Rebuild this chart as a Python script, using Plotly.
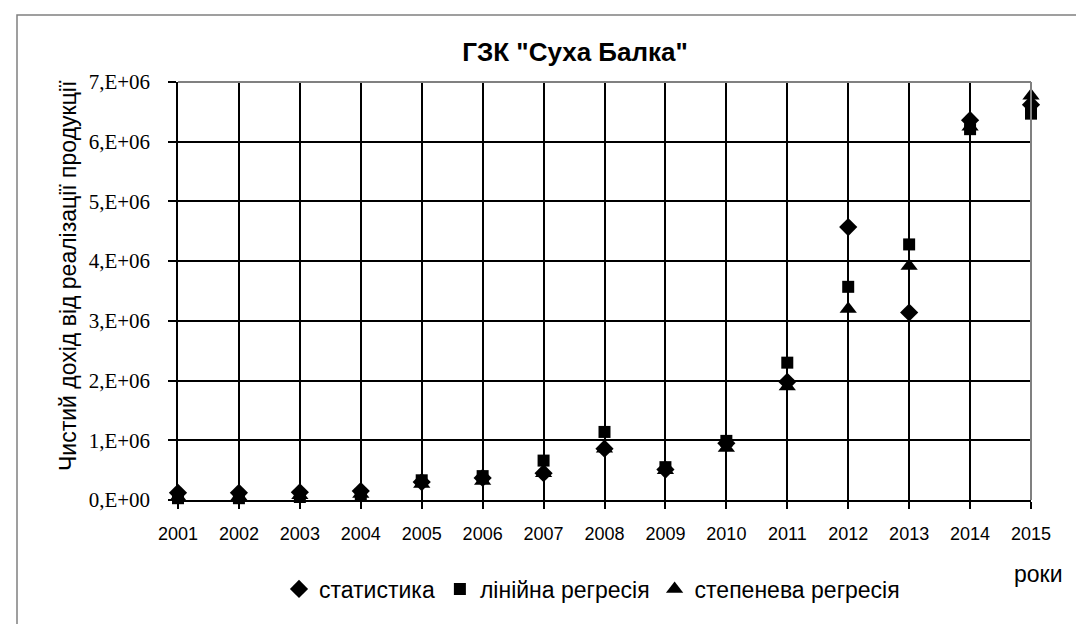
import plotly.graph_objects as go

years = [2001, 2002, 2003, 2004, 2005, 2006, 2007, 2008, 2009, 2010, 2011, 2012, 2013, 2014, 2015]
statystyka = [0.12e6, 0.12e6, 0.13e6, 0.15e6, 0.30e6, 0.37e6, 0.45e6, 0.86e6, 0.51e6, 0.95e6, 1.98e6, 4.57e6, 3.14e6, 6.36e6, 6.62e6]
liniina = [0.03e6, 0.03e6, 0.05e6, 0.09e6, 0.33e6, 0.40e6, 0.66e6, 1.14e6, 0.55e6, 0.99e6, 2.30e6, 3.57e6, 4.28e6, 6.21e6, 6.47e6]
stepeneva = [0.05e6, 0.06e6, 0.08e6, 0.10e6, 0.27e6, 0.32e6, 0.45e6, 0.86e6, 0.50e6, 0.87e6, 1.90e6, 3.20e6, 3.92e6, 6.25e6, 6.77e6]
names = ["статистика", "лінійна регресія", "степенева регресія"]
ytickvals = [0, 1e6, 2e6, 3e6, 4e6, 5e6, 6e6, 7e6]
yticktext = ["0,E+00", "1,E+06", "2,E+06", "3,E+06", "4,E+06", "5,E+06", "6,E+06", "7,E+06"]

SANS = "Liberation Sans, Arial, sans-serif"
SERIF = "Times New Roman, Liberation Serif, serif"

fig = go.Figure()
fig.add_trace(go.Scatter(x=years, y=statystyka, mode="markers", name=names[0],
                         marker=dict(symbol="diamond", size=14, color="black"), cliponaxis=False))
fig.add_trace(go.Scatter(x=years, y=liniina, mode="markers", name=names[1],
                         marker=dict(symbol="square", size=12, color="black"), cliponaxis=False))
fig.add_trace(go.Scatter(x=years, y=stepeneva, mode="markers", name=names[2],
                         marker=dict(symbol="triangle-up", size=15, color="black"), cliponaxis=False))

L, R, T, B = 170, 61, 74, 132
W, H = 1084, 624
pw, ph = W - L - R, H - T - B

def px(x):
    return (x - L) / pw

def py(y):
    return (H - B - y) / ph

fig.update_layout(
    width=W, height=H,
    margin=dict(l=L, r=R, t=T, b=B),
    paper_bgcolor="white", plot_bgcolor="white",
    title=dict(text='ГЗК "Суха Балка"', x=px(567), xref="paper", y=1 - 44 / H, yref="container",
               xanchor="center", yanchor="middle",
               font=dict(family=SANS, size=26, color="black", weight="bold")),
    showlegend=True,
    legend=dict(orientation="h", x=px(584), y=py(581), xanchor="center", yanchor="middle",
                font=dict(family=SANS, size=23, color="black"), bgcolor="rgba(0,0,0,0)",
                itemwidth=30, tracegroupgap=0),
    xaxis=dict(range=[2001, 2015], tickvals=years, ticktext=[str(y) for y in years],
               showgrid=True, gridcolor="black", gridwidth=1.5,
               showline=True, linecolor="black", linewidth=1.5,
               ticks="outside", ticklen=7, tickcolor="black", tickwidth=1.5,
               ticklabelstandoff=10,
               tickfont=dict(family=SANS, size=18, color="black"), zeroline=False),
    yaxis=dict(range=[0, 7e6], tickvals=ytickvals, ticktext=yticktext,
               showgrid=True, gridcolor="black", gridwidth=1.5,
               showline=True, linecolor="black", linewidth=1.5,
               ticks="outside", ticklen=8, tickcolor="black", tickwidth=1.5,
               ticklabelstandoff=14,
               tickfont=dict(family=SERIF, size=21, color="black"), zeroline=False),
    annotations=[
        dict(text="Чистий дохід від реалізації продукції", x=px(60), y=py(268), xref="paper", yref="paper",
             textangle=-90, showarrow=False, xanchor="center", yanchor="middle",
             font=dict(family=SANS, size=23, color="black")),
        dict(text="роки", x=px(1030), y=py(566), xref="paper", yref="paper",
             showarrow=False, xanchor="center", yanchor="middle",
             font=dict(family=SANS, size=23, color="black")),
    ],
    shapes=[
        dict(type="rect", xref="paper", yref="paper", x0=px(9), x1=px(1077), y0=py(618), y1=py(7),
             line=dict(color="#808080", width=1.5), fillcolor="rgba(0,0,0,0)", layer="below"),
        dict(type="line", xref="paper", yref="paper", x0=0, x1=1, y0=1, y1=1,
             line=dict(color="#808080", width=2), layer="above"),
        dict(type="line", xref="paper", yref="paper", x0=1, x1=1, y0=0, y1=1,
             line=dict(color="#808080", width=2), layer="above"),
    ],
)

fig.write_html("out.html")
